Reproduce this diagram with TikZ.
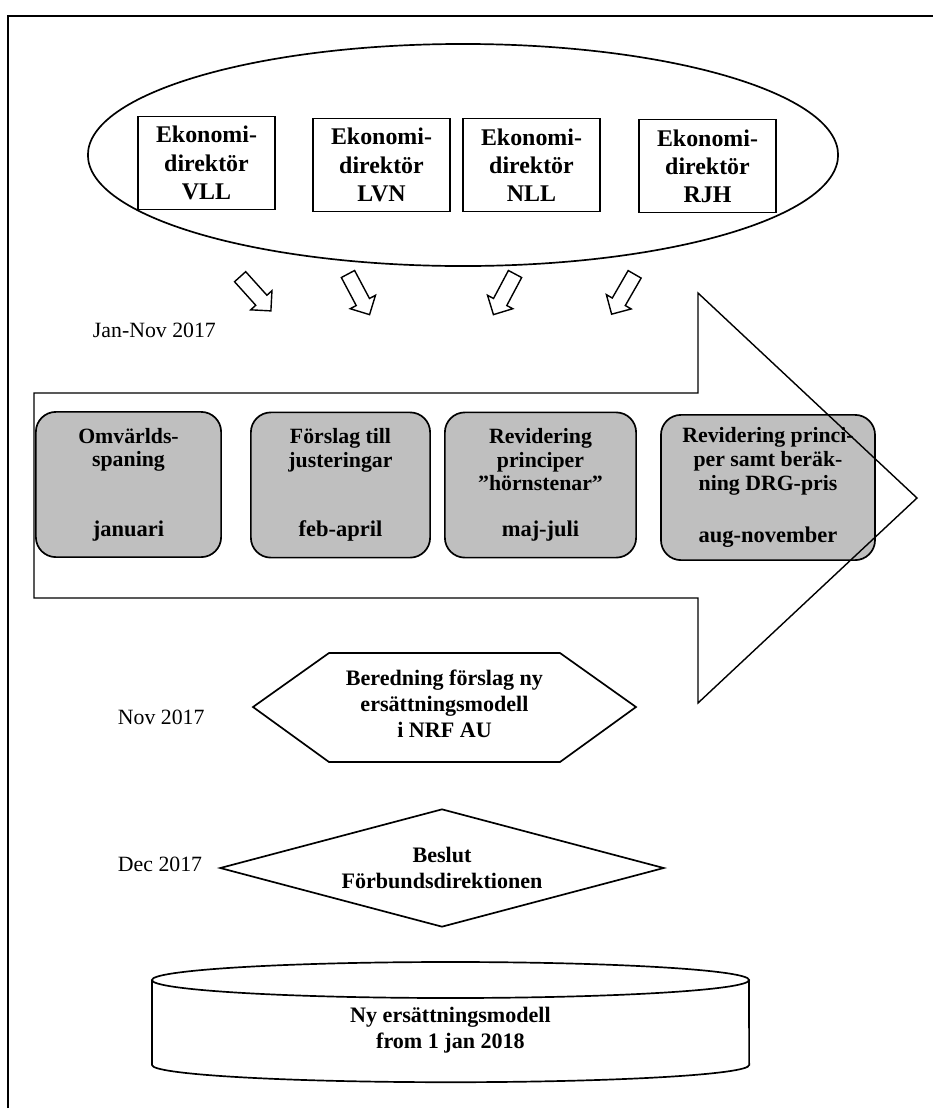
\documentclass[tikz,border=0pt]{standalone}
\usepackage{fontspec}
\setmainfont{Liberation Serif}
\usetikzlibrary{shapes.geometric,shapes.arrows,positioning}

\tikzset{
  dirbox/.style={draw, line width=1.2pt, minimum width=3.43cm, minimum height=2.33cm, align=center, font=\fontsize{17}{20}\selectfont\bfseries},
  phasebox/.style={draw, line width=1.2pt, fill=black!25, rounded corners=0.5cm, minimum height=3.63cm},
  phasetitle/.style={align=center, font=\fontsize{15.5}{16.8}\selectfont\bfseries},
  phaseperiod/.style={font=\fontsize{16}{19}\selectfont\bfseries},
  hollowarrow/.style={single arrow, draw, line width=1pt, minimum height=1.15cm, inner xsep=0pt, inner ysep=0.17cm, single arrow head extend=0.17cm},
  datelabel/.style={anchor=west, font=\fontsize{15.5}{18}\selectfont},
  boldtext/.style={align=center, font=\fontsize{15.7}{18.5}\selectfont\bfseries}
}

\begin{document}
\begin{tikzpicture}[x=0.025cm, y=-0.025cm]

\useasboundingbox (0,0) rectangle (933,1113);
\draw[line width=1.2pt] (8,1108) -- (8,16) -- (933,16);

% directors
\node[draw, ellipse, line width=1.2pt, minimum width=18.75cm, minimum height=5.55cm] (board) at (463,155) {};
\node[dirbox] (vll) at (206.5,163) {Ekonomi-\\direktör\\VLL};
\node[dirbox] (lvn) at (381.5,165) {Ekonomi-\\direktör\\LVN};
\node[dirbox] (nll) at (531.5,165) {Ekonomi-\\direktör\\NLL};
\node[dirbox] (rjh) at (707.5,166) {Ekonomi-\\direktör\\RJH};

\node[hollowarrow, rotate=-48] (pil1) at (253,291) {};
\node[hollowarrow, rotate=-62] (pil2) at (357,291) {};
\node[hollowarrow, rotate=-118] (pil3) at (506,291) {};
\node[hollowarrow, rotate=-120] (pil4) at (625,291) {};

\node[datelabel] (jannov) at (88,330) {Jan-Nov 2017};

% phases
\node[phasebox, minimum width=4.63cm] (omvarld) at (128.5,484.5) {};
\node[phasebox, minimum width=4.48cm] (forslag) at (340.5,485) {};
\node[phasebox, minimum width=4.78cm] (revidering) at (540.5,485) {};
\node[phasebox, minimum width=5.35cm] (drgpris) at (768,487.5) {};

\node[phasetitle, below=0.3cm of omvarld.north] (omvarldtext) {Omvärlds-\\spaning};
\node[phasetitle, below=0.3cm of forslag.north] (forslagtext) {Förslag till\\justeringar};
\node[phasetitle, below=0.3cm of revidering.north] (revideringtext) {Revidering\\principer\\”hörnstenar”};
\node[phasetitle, below=0.22cm of drgpris.north] (drgpristext) {Revidering princi-\\per samt beräk-\\ning DRG-pris};

\node[phaseperiod, above=0.3cm of omvarld.south] (januari) {januari};
\node[phaseperiod, above=0.3cm of forslag.south] (febapril) {feb-april};
\node[phaseperiod, above=0.3cm of revidering.south] (majjuli) {maj-juli};
\node[phaseperiod, above=0.22cm of drgpris.south] (augnov) {aug-november};

\draw[line width=1pt] (34,393) -- (698,393) -- (698,293) -- (917,498) -- (698,703) -- (698,598) -- (34,598) -- cycle;

% decisions
\node[boldtext] (beredning) at (444.5,704) {Beredning förslag ny\\ersättningsmodell\\i NRF AU};
\draw[line width=1.2pt] (253,707) -- (329,653) -- (560,653) -- (636,707) -- (560,762) -- (329,762) -- cycle;
\node[datelabel] (novlabel) at (113,717) {Nov 2017};

\node[draw, diamond, line width=1.2pt, aspect=3.76, minimum width=11.1cm, minimum height=2.95cm, inner sep=0pt, boldtext] (beslut) at (442,868) {Beslut\\Förbundsdirektionen};
\node[datelabel] (declabel) at (113,864) {Dec 2017};

% new model
\draw[line width=1.2pt] (450.5,980) ellipse [x radius=7.4625cm, y radius=0.45cm];
\draw[line width=1.2pt] (152,980) -- (152,1065) arc [start angle=180, end angle=360, x radius=7.4625cm, y radius=0.43cm] -- (749,980);
\node[boldtext] (nymodell) at (450.5,1030) {Ny ersättningsmodell\\from 1 jan 2018};

\end{tikzpicture}
\end{document}
